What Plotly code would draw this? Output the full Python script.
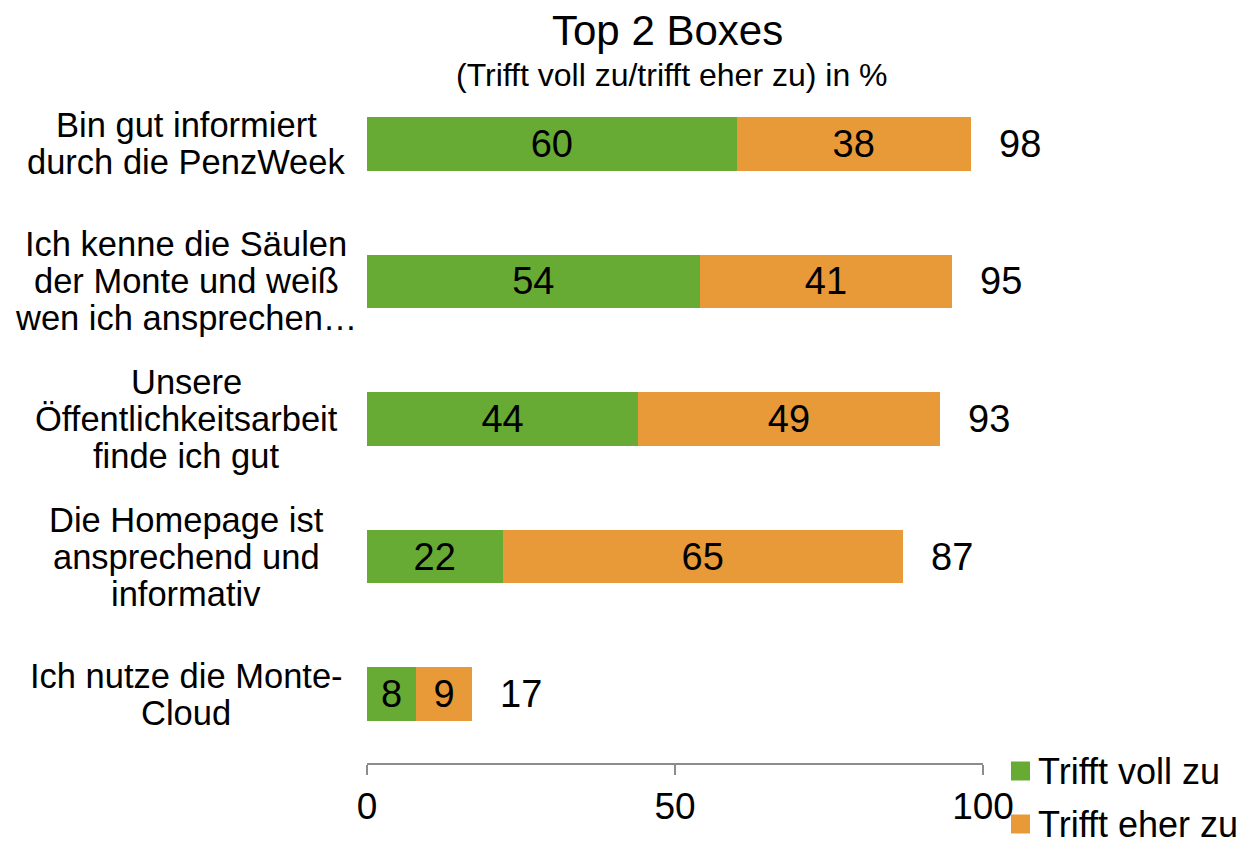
import plotly.graph_objects as go

categories = [
    "Bin gut informiert durch die PenzWeek",
    "Ich kenne die Säulen der Monte und weiß wen ich ansprechen…",
    "Unsere Öffentlichkeitsarbeit finde ich gut",
    "Die Homepage ist ansprechend und informativ",
    "Ich nutze die Monte-Cloud",
]
label_lines = [
    ["Bin gut informiert", "durch die PenzWeek"],
    ["Ich kenne die Säulen", "der Monte und weiß", "wen ich ansprechen…"],
    ["Unsere", "Öffentlichkeitsarbeit", "finde ich gut"],
    ["Die Homepage ist", "ansprechend und", "informativ"],
    ["Ich nutze die Monte-", "Cloud"],
]
voll = [60, 54, 44, 22, 8]
eher = [38, 41, 49, 65, 9]
totals = [98, 95, 93, 87, 17]
series_names = ["Trifft voll zu", "Trifft eher zu"]
x_ticks = [0, 50, 100]

GREEN = "#67AB34"
ORANGE = "#E89A38"
FONT = "Liberation Sans, Arial, Helvetica, sans-serif"
colors = [GREEN, ORANGE]

# the page body adds an 8px offset; layout below is in screen pixels
OFF = 8
W, H = 1244, 838
PLOT_LEFT, PLOT_RIGHT, PLOT_TOP, PLOT_BOTTOM = 367, 983, 75, 763
L = PLOT_LEFT - OFF
R = W - (PLOT_RIGHT - OFF)
T = PLOT_TOP - OFF
B = H - (PLOT_BOTTOM - OFF)
plot_w = PLOT_RIGHT - PLOT_LEFT
plot_h = PLOT_BOTTOM - PLOT_TOP


def px_x(p):
    return (p - PLOT_LEFT) / plot_w


def px_y(p):
    return (PLOT_BOTTOM - p) / plot_h


fig = go.Figure()
for name, vals, col in zip(series_names, [voll, eher], colors):
    fig.add_trace(go.Bar(
        y=categories, x=vals, orientation="h", name=name,
        marker=dict(color=col, line=dict(width=0)), width=0.39,
        text=vals, textposition="inside", insidetextanchor="middle",
        textfont=dict(size=38, color="black", family=FONT), constraintext="none",
        showlegend=False,
    ))

annotations = []
shapes = []
# totals
for cat, tot in zip(categories, totals):
    annotations.append(dict(
        x=tot, y=cat, xref="x", yref="y", text=str(tot), showarrow=False,
        xanchor="left", yanchor="middle", xshift=26,
        font=dict(size=38, color="black", family=FONT),
    ))
# category labels (multi-line, centred)
line_gap = 37
for cat, lines in zip(categories, label_lines):
    n = len(lines)
    for i, ln in enumerate(lines):
        annotations.append(dict(
            x=px_x(186), y=cat, xref="paper", yref="y", text=ln, showarrow=False,
            xanchor="center", yanchor="middle",
            yshift=((n - 1) / 2 - i) * line_gap,
            font=dict(size=34.5, color="black", family=FONT),
        ))
# title + subtitle
annotations.append(dict(
    x=px_x(667), y=px_y(30), xref="paper", yref="paper",
    text="Top 2 Boxes", showarrow=False, xanchor="center", yanchor="middle",
    font=dict(size=42, color="black", family=FONT),
))
annotations.append(dict(
    x=px_x(672), y=px_y(75), xref="paper", yref="paper",
    text="(Trifft voll zu/trifft eher zu) in %", showarrow=False,
    xanchor="center", yanchor="middle",
    font=dict(size=32, color="black", family=FONT),
))
# legend (drawn manually to match the larger swatches)
for i, (name, col) in enumerate(zip(series_names, colors)):
    cy = 771 + i * 53
    shapes.append(dict(
        type="rect", xref="paper", yref="paper",
        x0=px_x(1011), x1=px_x(1030), y0=px_y(cy - 9.5), y1=px_y(cy + 9.5),
        fillcolor=col, line=dict(width=0),
    ))
    annotations.append(dict(
        x=px_x(1036), y=px_y(cy), xref="paper", yref="paper", text=name,
        showarrow=False, xanchor="left", yanchor="middle",
        font=dict(size=36, color="black", family=FONT),
    ))

fig.update_layout(
    width=W, height=H,
    margin=dict(l=L, r=R, t=T, b=B, pad=0, autoexpand=False),
    barmode="stack",
    plot_bgcolor="white", paper_bgcolor="white",
    font=dict(family=FONT, color="black", size=36),
    showlegend=False,
    annotations=annotations,
    shapes=shapes,
    xaxis=dict(
        range=[0, 100], tickvals=x_ticks, ticktext=[str(v) for v in x_ticks],
        showgrid=False, zeroline=False,
        showline=True, linecolor="#8C8C8C", linewidth=2,
        ticks="outside", ticklen=10, tickwidth=2, tickcolor="#8C8C8C",
        tickfont=dict(size=37, color="black", family=FONT),
        fixedrange=True,
    ),
    yaxis=dict(
        categoryorder="array", categoryarray=categories,
        autorange="reversed",
        showticklabels=False, showgrid=False, zeroline=False, showline=False,
        ticks="", fixedrange=True,
    ),
)

fig.write_html("out.html")
